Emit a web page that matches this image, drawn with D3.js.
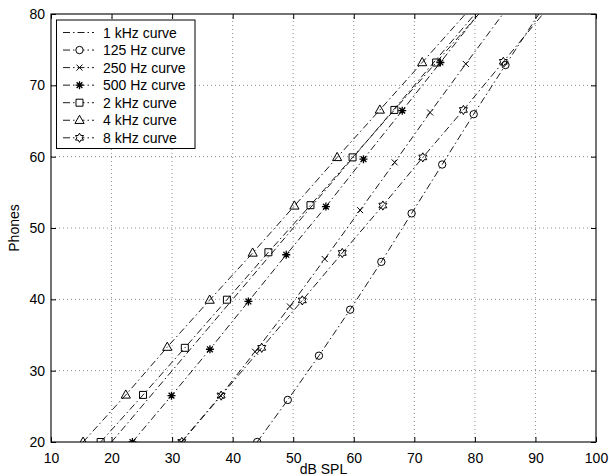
<!DOCTYPE html>
<html>
<head>
<meta charset="utf-8">
<script src="https://cdn.jsdelivr.net/npm/d3@7"></script>
<style>
  body { margin: 0; background: #fff; }
  svg { display: block; font-family: "Liberation Sans", Arial, Helvetica, sans-serif; }
</style>
</head>
<body>
<div id="chart"></div>
<script>
var W = 609, H = 476;

// axis ticks
var xTicks = [10, 20, 30, 40, 50, 60, 70, 80, 90, 100];
var yTicks = [20, 30, 40, 50, 60, 70, 80];

// series: dB SPL (x) and phones (y)
var names = ["1 kHz curve", "125 Hz curve", "250 Hz curve", "500 Hz curve", "2 kHz curve", "4 kHz curve", "8 kHz curve"];
var markers = ["none", "circle", "x", "star", "square", "triangle", "hexagram"];

var spl1k   = [20, 30, 40, 50, 60, 70, 80];
var phon1k  = [20, 30, 40, 50, 60, 70, 80];
var spl125  = [44.05, 49.1, 54.25, 59.4, 64.55, 69.55, 74.6, 79.8, 85.05, 92.5];
var phon125 = [20, 25.9, 32.1, 38.55, 45.25, 52.05, 58.9, 65.95, 72.85, 82.5];
var spl250  = [31.5, 38.0, 43.7, 49.45, 55.2, 61.05, 66.75, 72.6, 78.5, 85.5];
var phon250 = [20, 26.5, 32.65, 39.0, 45.65, 52.5, 59.2, 66.2, 73.0, 81];
var spl500  = [23.45, 29.9, 36.25, 42.6, 48.85, 55.4, 61.6, 68.0, 74.3, 81.5];
var phon500 = [20, 26.5, 33.0, 39.7, 46.25, 53.0, 59.65, 66.45, 73.2, 81];
var spl2k   = [18.2, 25.2, 32.1, 39.05, 45.9, 52.85, 59.8, 66.7, 73.6, 81.9];
var phon2k  = [20, 26.6, 33.2, 39.95, 46.6, 53.2, 59.9, 66.55, 73.2, 81.2];
var spl4k   = [15.3, 22.35, 29.2, 36.2, 43.3, 50.2, 57.25, 64.3, 71.3, 79.7];
var phon4k  = [20, 26.6, 33.3, 39.9, 46.5, 53.1, 59.9, 66.55, 73.2, 81.2];
var spl8k   = [31.6, 38.1, 44.8, 51.5, 58.1, 64.8, 71.4, 78.1, 84.7, 92.5];
var phon8k  = [20, 26.5, 33.2, 39.85, 46.5, 53.15, 59.9, 66.55, 73.3, 81.3];

var splData  = [spl1k, spl125, spl250, spl500, spl2k, spl4k, spl8k];
var phonData = [phon1k, phon125, phon250, phon500, phon2k, phon4k, phon8k];

var series = names.map(function(n, i) {
  return {
    name: n,
    marker: markers[i],
    pts: splData[i].map(function(v, j) { return [v, phonData[i][j]]; })
  };
});

var x = d3.scaleLinear().domain([10, 100]).range([51, 596]);
var y = d3.scaleLinear().domain([20, 80]).range([442, 14]);

var svg = d3.select("#chart").append("svg")
  .attr("width", W)
  .attr("height", H);

svg.append("defs").append("clipPath")
  .attr("id", "plotclip")
  .append("rect")
  .attr("x", x(10)).attr("y", y(80))
  .attr("width", x(100) - x(10))
  .attr("height", y(20) - y(80));

// grid
var grid = svg.append("g").attr("stroke", "#333").attr("stroke-width", 0.8)
  .attr("stroke-dasharray", "1,3").attr("opacity", 0.7);
grid.selectAll(".gx").data(xTicks.slice(1, -1)).enter().append("line")
  .attr("x1", function(d) { return x(d); }).attr("x2", function(d) { return x(d); })
  .attr("y1", y(20)).attr("y2", y(80));
grid.selectAll(".gy").data(yTicks.slice(1, -1)).enter().append("line")
  .attr("y1", function(d) { return y(d); }).attr("y2", function(d) { return y(d); })
  .attr("x1", x(10)).attr("x2", x(100));

// markers
var lineStyle = "7,3,1.5,3";
function markerPath(type) {
  var p = d3.path();
  if (type == "circle") {
    p.moveTo(3.7, 0); p.arc(0, 0, 3.7, 0, 2 * Math.PI);
  } else if (type == "x") {
    p.moveTo(-3, -3); p.lineTo(3, 3); p.moveTo(-3, 3); p.lineTo(3, -3);
  } else if (type == "star") {
    p.moveTo(-4, 0); p.lineTo(4, 0); p.moveTo(0, -4); p.lineTo(0, 4);
    p.moveTo(-2.9, -2.9); p.lineTo(2.9, 2.9); p.moveTo(-2.9, 2.9); p.lineTo(2.9, -2.9);
  } else if (type == "square") {
    p.rect(-3.5, -3.5, 7, 7);
  } else if (type == "triangle") {
    p.moveTo(0, -5); p.lineTo(4.6, 3.2); p.lineTo(-4.6, 3.2); p.closePath();
  } else if (type == "hexagram") {
    var R = 4.6, r = R / Math.sqrt(3);
    for (var k = 0; k < 12; k++) {
      var a = -Math.PI / 2 + k * Math.PI / 6;
      var rr = k % 2 == 0 ? R : r;
      if (k == 0) p.moveTo(rr * Math.cos(a), rr * Math.sin(a));
      else p.lineTo(rr * Math.cos(a), rr * Math.sin(a));
    }
    p.closePath();
  }
  return p.toString();
}

var line = d3.line()
  .x(function(d) { return x(d[0]); })
  .y(function(d) { return y(d[1]); });

var plot = svg.append("g").attr("clip-path", "url(#plotclip)");

plot.selectAll(".curve").data(series).enter().append("path")
  .attr("class", "curve")
  .attr("d", function(d) { return line(d.pts); })
  .attr("fill", "none")
  .attr("stroke", "#000")
  .attr("stroke-width", 0.9)
  .attr("stroke-dasharray", lineStyle);

series.forEach(function(s) {
  if (s.marker == "none") return;
  plot.selectAll(null)
    .data(s.pts.filter(function(d) { return d[1] <= 80; }))
    .enter().append("path")
    .attr("transform", function(d) { return "translate(" + x(d[0]) + "," + y(d[1]) + ")"; })
    .attr("d", markerPath(s.marker))
    .attr("fill", "none")
    .attr("stroke", "#000")
    .attr("stroke-width", s.marker == "star" ? 1.3 : 1);
});

// axes, ticks inward on all sides
var fontSize = "14px";
var gx = svg.append("g").attr("transform", "translate(0," + y(20) + ")")
  .call(d3.axisBottom(x).tickValues(xTicks).tickSizeInner(-5).tickSizeOuter(0).tickPadding(11.5));
var gy = svg.append("g").attr("transform", "translate(" + x(10) + ",0)")
  .call(d3.axisLeft(y).tickValues(yTicks).tickSizeInner(-5).tickSizeOuter(0).tickPadding(6));
var gt = svg.append("g").attr("transform", "translate(0," + y(80) + ")")
  .call(d3.axisTop(x).tickValues(xTicks).tickSizeInner(-5).tickSizeOuter(0).tickFormat(""));
var gr = svg.append("g").attr("transform", "translate(" + x(100) + ",0)")
  .call(d3.axisRight(y).tickValues(yTicks).tickSizeInner(-5).tickSizeOuter(0).tickFormat(""));

[gx, gy, gt, gr].forEach(function(g) {
  g.selectAll(".domain").remove();
  g.selectAll("line").attr("stroke", "#000").attr("stroke-width", 1);
  g.selectAll("text").attr("fill", "#000").style("font-size", fontSize)
    .style("font-family", "'Liberation Sans', Arial, Helvetica, sans-serif");
});

svg.append("rect")
  .attr("x", x(10)).attr("y", y(80))
  .attr("width", x(100) - x(10)).attr("height", y(20) - y(80))
  .attr("fill", "none").attr("stroke", "#000").attr("stroke-width", 1.1);

// axis labels
svg.append("text")
  .attr("x", (x(10) + x(100)) / 2)
  .attr("y", 474)
  .attr("text-anchor", "middle")
  .style("font-size", fontSize)
  .text("dB SPL");

svg.append("text")
  .attr("transform", "translate(19," + (y(50)) + ") rotate(-90)")
  .attr("text-anchor", "middle")
  .style("font-size", fontSize)
  .text("Phones");

// legend
var legend = svg.append("g").attr("class", "legend");
legend.append("rect")
  .attr("x", 56.5).attr("y", 20)
  .attr("width", 138.5).attr("height", 128.5)
  .attr("fill", "#fff").attr("stroke", "#000").attr("stroke-width", 1);

var rows = legend.selectAll(".row").data(series).enter().append("g")
  .attr("transform", function(d, i) { return "translate(0," + (32.5 + i * 17.55) + ")"; });

rows.append("line")
  .attr("x1", 63).attr("x2", 94)
  .attr("stroke", "#000").attr("stroke-width", 0.9)
  .attr("stroke-dasharray", lineStyle);

rows.filter(function(d) { return d.marker != "none"; }).append("path")
  .attr("transform", "translate(79.5,0)")
  .attr("d", function(d) { return markerPath(d.marker); })
  .attr("fill", "#fff")
  .attr("stroke", "#000")
  .attr("stroke-width", function(d) { return d.marker == "star" ? 1.3 : 1; });

rows.append("text")
  .attr("x", 103)
  .attr("dy", "0.36em")
  .style("font-size", fontSize)
  .text(function(d) { return d.name; });
</script>
</body>
</html>
